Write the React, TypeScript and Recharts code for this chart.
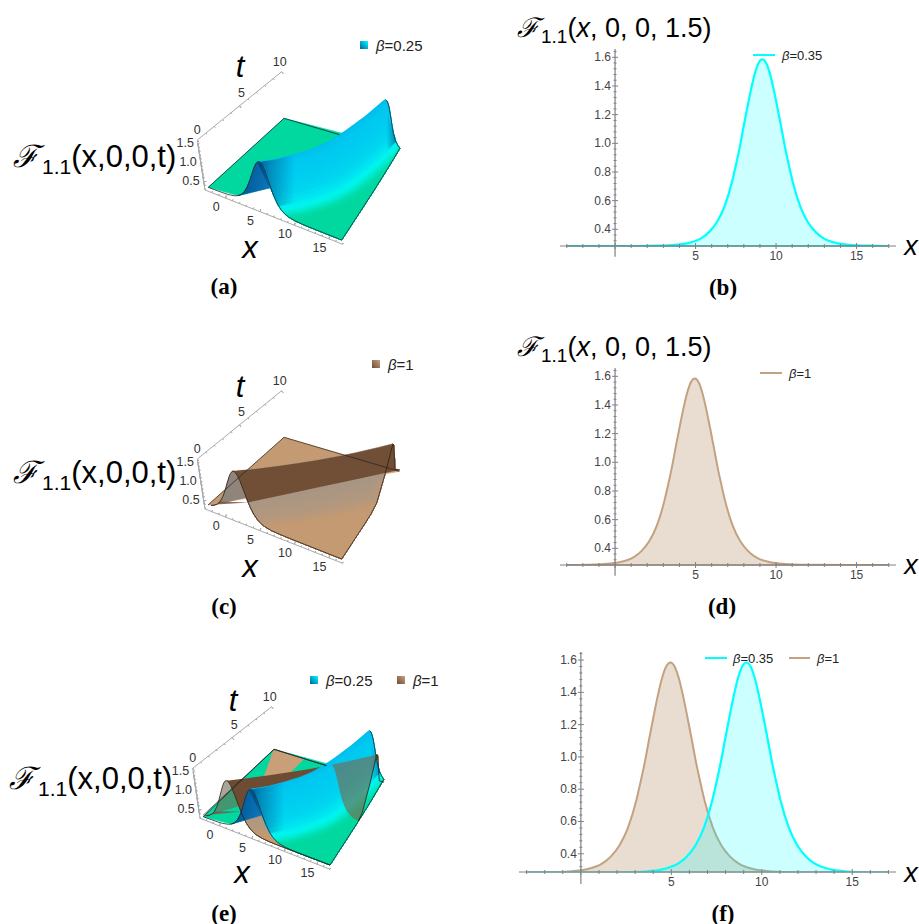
import React from "react";
import {
  Area,
  ComposedChart,
  Line,
  ReferenceLine,
  Scatter,
  XAxis,
  YAxis,
} from "recharts";

// section curves (b), (d), (f)
const cyanX = [-3, 1.5, 2.55, 3.51, 4.45, 5.39, 5.85, 6.33, 6.8, 7.27, 7.5, 7.74, 7.97, 8.21, 8.45, 8.68, 8.91, 9.15, 9.39, 9.62, 9.85, 10.09, 10.33, 10.56, 10.8, 11.03, 11.5, 11.97, 12.45, 12.91, 13.85, 14.79, 15.75, 17];
const brownX = [-3, -1.65, -0.69, 0.25, 1.19, 1.65, 2.13, 2.6, 3.07, 3.3, 3.54, 3.77, 4.01, 4.25, 4.48, 4.71, 4.95, 5.19, 5.42, 5.65, 5.89, 6.13, 6.36, 6.6, 6.83, 7.3, 7.77, 8.25, 8.71, 9.65, 10.59, 11.55, 17];
const cyanY = [0.2835, 0.2835, 0.2855, 0.29, 0.302, 0.34, 0.382, 0.451, 0.56, 0.733, 0.845, 0.97, 1.108, 1.246, 1.378, 1.486, 1.559, 1.585, 1.559, 1.486, 1.378, 1.246, 1.108, 0.97, 0.845, 0.733, 0.56, 0.451, 0.382, 0.34, 0.302, 0.29, 0.2855, 0.2835];
const brownY = [0.2835, 0.2855, 0.29, 0.302, 0.34, 0.382, 0.451, 0.56, 0.733, 0.845, 0.97, 1.108, 1.246, 1.378, 1.486, 1.559, 1.585, 1.559, 1.486, 1.378, 1.246, 1.108, 0.97, 0.845, 0.733, 0.56, 0.451, 0.382, 0.34, 0.302, 0.29, 0.2855, 0.2835];

const xTicks2d = [-3, -2, -1, 0, 1, 2, 3, 4, 5, 6, 7, 8, 9, 10, 11, 12, 13, 14, 15, 16, 17];
const yTicks2d = [0.32, 0.36, 0.4, 0.44, 0.48, 0.52, 0.56, 0.6, 0.64, 0.68, 0.72, 0.76, 0.8, 0.84, 0.88, 0.92, 0.96, 1, 1.04, 1.08, 1.12, 1.16, 1.2, 1.24, 1.28, 1.32, 1.36, 1.4, 1.44, 1.48, 1.52, 1.56, 1.6, 1.64];
const yMajor = [0.4, 0.6, 0.8, 1, 1.2, 1.4, 1.6];

// soliton cross-section, height against distance from the crest
const profileOffsets = [-8, -7, -6, -5, -4, -3.5, -3, -2.5, -2, -1.75, -1.5, -1.25, -1, -0.75, -0.5, -0.25, 0, 0.25, 0.5, 0.75, 1, 1.25, 1.5, 1.75, 2, 2.5, 3, 3.5, 4, 5, 6, 7, 8];
const profileHeights = [0.2835, 0.2855, 0.29, 0.302, 0.34, 0.382, 0.451, 0.56, 0.733, 0.845, 0.97, 1.108, 1.246, 1.378, 1.486, 1.559, 1.585, 1.559, 1.486, 1.378, 1.246, 1.108, 0.97, 0.845, 0.733, 0.56, 0.451, 0.382, 0.34, 0.302, 0.29, 0.2855, 0.2835];

// crest position x against t for the two surfaces
const crestCyan = [5, 6.8, 8.2, 9.5, 10.5, 11.2, 11.8, 12.3, 12.8, 13.2, 13.6];
const crestBrown = [1.45, 3.45, 5.45, 7.45, 9.45, 11.45, 13.45, 15.45, 17.45, 19.45, 21.45];
const tSamples = [0, 1, 2, 3, 4, 5, 6, 7, 7.77, 8, 9, 10];

const xTicks3d = [-3, -2, -1, 0, 1, 2, 3, 4, 5, 6, 7, 8, 9, 10, 11, 12, 13, 14, 15, 16, 17];
const tTicks3d = [0, 1, 2, 3, 4, 5, 6, 7, 8, 9, 10];
const zTicks3d = [0.4, 0.5, 0.6, 0.7, 0.8, 0.9, 1, 1.1, 1.2, 1.3, 1.4, 1.5];
const xLabels3d = [0, 5, 10, 15];
const tLabels3d = [0, 5, 10];
const zLabels3d = [0.5, 1, 1.5];

// colours on the front slope, crest to foot
const stripOffsets = [-0.3, 0, 0.25, 0.5, 0.75, 1, 1.25, 1.5, 1.75, 2, 2.25, 2.5, 2.75, 3, 3.25, 3.5, 3.75, 4, 4.5, 5.5];
const cyanStrips = ["#00b8ea", "#00c0ec", "#00c4ee", "#00c8ef", "#00caf0", "#00ccf0", "#00cff0", "#00d2f0", "#00d6f0", "#00dcf0", "#00e4f0", "#00ecf0", "#00f4ee", "#00f2e2", "#00ecd2", "#00e6c2", "#00e0b4", "#00dca8", "#00d8a0", "#00d8a0"];
const brownStrips = ["#9c8f82", "#9e9083", "#a09183", "#a29283", "#a49383", "#a69483", "#a89583", "#a99583", "#ab9682", "#ad9781", "#af9780", "#b1987f", "#b4987d", "#b7987b", "#ba9979", "#bd9977", "#c09975", "#c29a73", "#c49a72", "#c49a72"];

const FONT = "'Liberation Sans', Arial, sans-serif";
const CYAN = "#00ffff";
const BROWN = "#c2a280";
const EDGE = "#1c2a30";

type Pt = { u: number; v: number };

const lerp = (a: number, b: number, f: number) => a + (b - a) * f;

const heightAt = (xi: number) => {
  if (xi <= profileOffsets[0] || xi >= profileOffsets[profileOffsets.length - 1]) return 0.2835;
  for (let i = 1; i < profileOffsets.length; i++) {
    if (xi <= profileOffsets[i]) {
      const f = (xi - profileOffsets[i - 1]) / (profileOffsets[i] - profileOffsets[i - 1]);
      return lerp(profileHeights[i - 1], profileHeights[i], f);
    }
  }
  return 0.2835;
};

const crestAt = (crest: number[], t: number) => {
  const i = Math.min(Math.floor(t), 9);
  return lerp(crest[i], crest[i + 1], t - i);
};

// perspective box of one 3D panel, page pixels
const panelA = {
  top: 40, height: 230,
  p00: [208.3, 187.3], p10: [341.7, 240], p01: [284, 118.3], p11: [399.3, 152.3],
  xAxis: [[205, 190], [342.7, 244.3]], tAxis: [[197.3, 140], [281.7, 71.7]], zAxis: [[197.3, 140], [205, 190]],
};
const shiftPanel = (p: any, dy: number) => ({
  top: p.top + dy, height: p.height,
  p00: [p.p00[0], p.p00[1] + dy], p10: [p.p10[0], p.p10[1] + dy], p01: [p.p01[0], p.p01[1] + dy], p11: [p.p11[0], p.p11[1] + dy],
  xAxis: p.xAxis.map((q: number[]) => [q[0], q[1] + dy]), tAxis: p.tAxis.map((q: number[]) => [q[0], q[1] + dy]), zAxis: p.zAxis.map((q: number[]) => [q[0], q[1] + dy]),
});
const panelC = shiftPanel(panelA, 319.3);
const panelE = {
  top: 680, height: 210,
  p00: [203.3, 816.7], p10: [330, 865], p01: [274, 749.3], p11: [383.3, 783.3],
  xAxis: [[200, 818.3], [330, 869.3]], tAxis: [[192.7, 768.3], [271.7, 706.7]], zAxis: [[192.7, 768.3], [200, 818.3]],
};

const project = (p: any, x: number, t: number, z: number): Pt => {
  const a = (x + 3) / 20;
  const b = t / 10;
  const lift = 36 * (z - 0.2835);
  const bottom = [lerp(p.p00[0], p.p10[0], a), lerp(p.p00[1], p.p10[1], a)];
  const back = [lerp(p.p01[0], p.p11[0], a), lerp(p.p01[1], p.p11[1], a)];
  const u = lerp(bottom[0], back[0], b);
  // verticals lean outwards as they rise, the view has perspective
  return { u: u + 0.00153 * (u - 297) * lift, v: lerp(bottom[1], back[1], b) - lift };
};

// point at a given distance from the crest, held inside the plotted x range
const onSurface = (p: any, crest: number[], xi: number, t: number) => {
  const c = crestAt(crest, t);
  const x = Math.min(17, Math.max(-3, c + xi));
  return project(p, x, t, heightAt(x - c));
};

const alongAxis = (ends: number[][], f: number): Pt => ({
  u: lerp(ends[0][0], ends[1][0], f),
  v: lerp(ends[0][1], ends[1][1], f),
});

// turn an outline into the low/high pairs an Area wants
const toRange = (pts: Pt[]) => {
  const us = Array.from(new Set(pts.map((q) => Math.round(q.u * 100) / 100))).sort((a, b) => a - b);
  return us.map((u) => {
    let lo = Infinity;
    let hi = -Infinity;
    pts.forEach((q, i) => {
      const r = pts[(i + 1) % pts.length];
      const a = Math.min(q.u, r.u) - 0.006;
      const b = Math.max(q.u, r.u) + 0.006;
      if (u < a || u > b) return;
      const f = Math.abs(r.u - q.u) < 0.01 ? 0 : Math.min(1, Math.max(0, (u - q.u) / (r.u - q.u)));
      const v = lerp(q.v, r.v, f);
      lo = Math.min(lo, v);
      hi = Math.max(hi, v);
      if (Math.abs(r.u - q.u) < 0.01) {
        lo = Math.min(lo, r.v);
        hi = Math.max(hi, r.v);
      }
    });
    return { u, range: [lo, hi] };
  });
};

const patch = (key: string, pts: Pt[], fill: string, opacity = 1, seam = true) => (
  <Area
    key={key}
    data={toRange(pts)}
    dataKey="range"
    type="linear"
    fill={fill}
    fillOpacity={opacity}
    stroke={seam ? fill : "none"}
    strokeWidth={seam ? 0.7 : 0}
    dot={false}
    activeDot={false}
    isAnimationActive={false}
  />
);

const edge = (key: string, pts: Pt[], color = EDGE, width = 0.8) => (
  <Line key={key} data={pts} dataKey="v" type="linear" stroke={color} strokeWidth={width} dot={false} activeDot={false} isAnimationActive={false} />
);

const samplesFrom = (from: number) => [from, ...tSamples.filter((t) => t > from)];

const profileAt = (p: any, crest: number[], t: number, from: number, to: number) => {
  const c = crestAt(crest, t);
  return profileOffsets
    .filter((o) => o >= from && o <= to && c + o >= -3 && c + o <= 17)
    .map((o) => project(p, c + o, t, heightAt(o)));
};

const edgeAtRight = (p: any, crest: number[], from = 0) =>
  samplesFrom(from).map((t) => project(p, 17, t, heightAt(17 - crestAt(crest, t))));

// each colour runs from its own line to the x=17 edge, later ones paint over earlier ones
const frontStrips = (p: any, crest: number[], colors: string[], prefix: string) =>
  stripOffsets.map((xi, i) => {
    const near = tSamples.map((t) => onSurface(p, crest, xi, t));
    const farEnd = profileAt(p, crest, 10, xi, 24).filter((q) => q.u > near[near.length - 1].u);
    const right = edgeAtRight(p, crest).reverse();
    const start = [...profileAt(p, crest, 0, xi, 24), project(p, 17, 0, 0.2835)].reverse();
    return patch(`${prefix}-strip-${i}`, [...near, ...farEnd, ...right, ...start], colors[i]);
  });

// flat part behind the wave; nothing is drawn under the open t=0 arc
const cyanBase = (p: any, id: string) => [
  patch(
    `${id}-base`,
    [
      project(p, -3, 0, 0.2835),
      onSurface(p, crestCyan, -3.5, 0),
      onSurface(p, crestCyan, 1.5, 0),
      project(p, 17, 10, heightAt(17 - 13.6)),
      project(p, -3, 10, 0.2835),
    ],
    "#00d8a0"
  ),
];

const cyanFront = (p: any, id: string) => {
  const c = crestCyan;
  const inside = profileAt(p, c, 0, -3.5, 1.5);
  const slope = tSamples.map((t) => onSurface(p, c, -0.3, t)).concat(tSamples.map((t) => onSurface(p, c, 2.6, t)).reverse());
  return [
    patch(`${id}-inside`, inside, `url(#${id}-under)`),
    ...frontStrips(p, c, cyanStrips, id),
    patch(`${id}-shade`, slope, `url(#${id}-shade)`, 1, false),
  ];
};

const cyanEdges = (p: any, id: string) => {
  const c = crestCyan;
  return [
    edge(`${id}-e1`, profileAt(p, c, 0, -8, 8).concat([project(p, 17, 0, 0.2835)])),
    edge(`${id}-e2`, edgeAtRight(p, c)),
    edge(`${id}-e3`, profileAt(p, c, 10, 0, 8).concat([project(p, 17, 10, heightAt(17 - 13.6))])),
    edge(`${id}-e4`, [project(p, -3, 0, 0.2835), project(p, -3, 10, 0.2835), project(p, 3, 10, 0.2835), project(p, 6.6, 10, 0.2835)]),
  ];
};

const brownLayers = (p: any, id: string, alone: boolean) => {
  const c = crestBrown;
  const crest = tSamples.map((t) => onSurface(p, c, 0, t));
  const tip = project(p, 17, 10, 0.2835);
  const corner = project(p, -3, 0, heightAt(-3 - 1.45));
  const back = project(p, -3, 10, 0.2835);
  const out: any[] = [];
  if (alone) {
    out.push(patch(`${id}-back`, [corner, back, tip], "#c49a72"));
    out.push(patch(`${id}-rear`, tSamples.slice(6).map((t) => onSurface(p, c, 0, t)).concat([project(p, 12.5, 10, 0.2835)]), "#8f857a"));
    out.push(...frontStrips(p, c, brownStrips, id));
    out.push(patch(`${id}-under`, profileAt(p, c, 0, -4, 1.6), "#8f857a"));
  } else {
    out.push(patch(`${id}-back`, [back, project(p, 2.5, 10, 0.2835), project(p, 2, 2.5, 0.2835)], "#c99f78"));
    out.push(...frontStrips(p, c, brownStrips, id).slice(6));
    out.push(patch(`${id}-under`, profileAt(p, c, 0, -4, 1.6), "#6e6a50", 0.6, false));
  }
  // dark band between the crest and the foot of the rear slope
  const band = profileAt(p, c, 0, 0, 1.75).reverse().concat(crest);
  out.push(patch(`${id}-band`, band, "#6e4c34", alone ? 0.97 : 1, false));
  out.push(patch(`${id}-tail`, [corner].concat(profileAt(p, c, 0, -3.6, -2.4)).concat(profileAt(p, c, 0, 1.75, 1.75)), "#7a5a42", 0.9, false));
  return out;
};

const brownEdges = (p: any, id: string, alone: boolean) => {
  const c = crestBrown;
  const line = "#2a2018";
  return [
    edge(`${id}-e1`, profileAt(p, c, 0, -8, 8).concat([project(p, 17, 0, 0.2835)]), line),
    edge(`${id}-e2`, edgeAtRight(p, c, alone ? 0 : 5.3), line),
    edge(`${id}-e4`, [project(p, -3, 0, heightAt(-3 - 1.45)), project(p, -3, 10, 0.2835), project(p, alone ? 17 : 6.6, 10, 0.2835)], line, 0.7),
  ];
};

// brown slope passing in front of the cyan one on the right of panel (e)
const brownOverlay = (p: any, id: string) => {
  const c = crestBrown;
  const from = 5.3;
  const crestPart = samplesFrom(from).map((t) => onSurface(p, c, 0, t));
  const side = edgeAtRight(p, c, from).reverse();
  const arc = profileAt(p, c, from, 0, 8).reverse();
  return [patch(`${id}-over`, crestPart.concat(side).concat(arc), "#7d6346", 0.6, false)];
};

// axis line with its ticks in one polyline
const axisWithTicks = (ends: number[][], values: number[], lo: number, hi: number, major: number[], out: number[]) => {
  const pts: Pt[] = [alongAxis(ends, 0)];
  values.forEach((val) => {
    const q = alongAxis(ends, (val - lo) / (hi - lo));
    const len = major.includes(val) ? 2.6 : 1.4;
    pts.push(q, { u: q.u + out[0] * len, v: q.v + out[1] * len }, q);
  });
  pts.push(alongAxis(ends, 1));
  return pts;
};

const tickText = (props: any) => {
  const d = props.payload;
  return (
    <text x={props.cx} y={props.cy} textAnchor={d.anchor} fontFamily={FONT} fontSize={12.5} fill="#333">
      {d.text}
    </text>
  );
};

const Surface3D = ({ panel, kind }: { panel: any; kind: string }) => {
  const id = `s${kind}`;
  const xLab = xLabels3d.map((val) => {
    const q = alongAxis(panel.xAxis, (val + 3) / 20);
    return { u: q.u - 9.5, v: q.v + 13, text: String(val), anchor: "middle" };
  });
  const tLab = tLabels3d.map((val) => {
    const q = alongAxis(panel.tAxis, val / 10);
    return { u: q.u - (val === 10 ? 2 : val === 5 ? -2 : 0), v: q.v - (val === 5 ? 9 : 6), text: String(val), anchor: "middle" };
  });
  const zLab = zLabels3d.map((val) => {
    const q = alongAxis(panel.zAxis, (1.6 - val) / 1.32);
    return { u: q.u - 4, v: q.v + 3, text: val.toFixed(1), anchor: "end" };
  });
  return (
    <div style={{ position: "absolute", left: 0, top: panel.top, width: 460, height: panel.height }}>
      <ComposedChart width={460} height={panel.height} margin={{ top: 0, right: 0, bottom: 0, left: 0 }}>
        <defs>
          <linearGradient id={`${id}-under`} x1="0" y1="0" x2="1" y2="0.2">
            <stop offset="0" stopColor="#004f8a" />
            <stop offset="1" stopColor="#0a74b8" />
          </linearGradient>
          <linearGradient id={`${id}-shade`} x1="0" y1="0" x2="1" y2="0">
            <stop offset="0" stopColor="#00407e" stopOpacity="0.8" />
            <stop offset="0.09" stopColor="#00407e" stopOpacity="0.45" />
            <stop offset="0.27" stopColor="#00407e" stopOpacity="0" />
            <stop offset="0.93" stopColor="#00407e" stopOpacity="0" />
            <stop offset="1" stopColor="#00407e" stopOpacity="0.55" />
          </linearGradient>
        </defs>
        <XAxis dataKey="u" type="number" domain={[0, 460]} allowDataOverflow hide />
        <YAxis dataKey="v" type="number" domain={[panel.top, panel.top + panel.height]} allowDataOverflow reversed hide />
        {kind === "a" && [...cyanBase(panel, id), ...cyanFront(panel, id)]}
        {kind === "c" && brownLayers(panel, id, true)}
        {kind === "e" && [
          ...cyanBase(panel, id),
          ...brownLayers(panel, `${id}b`, false),
          ...cyanFront(panel, id),
          ...brownOverlay(panel, id),
        ]}
        {edge(`${id}-xa`, axisWithTicks(panel.xAxis, xTicks3d, -3, 17, xLabels3d, [0.25, -1]), "#aaaaaa", 1)}
        {edge(`${id}-ta`, axisWithTicks(panel.tAxis, tTicks3d, 0, 10, tLabels3d, [0.6, 0.8]), "#aaaaaa", 1)}
        {edge(`${id}-za`, axisWithTicks(panel.zAxis, zTicks3d.map((z) => 1.6 - z), 0, 1.32, [0.1, 0.6, 1.1], [1, -0.1]), "#aaaaaa", 1)}
        {kind === "a" && cyanEdges(panel, id)}
        {kind === "c" && brownEdges(panel, id, true)}
        {kind === "e" && [...brownEdges(panel, `${id}b`, false), ...cyanEdges(panel, id)]}
        <Scatter data={[...xLab, ...tLab, ...zLab]} shape={tickText} isAnimationActive={false} />
      </ComposedChart>
    </div>
  );
};

const Section2D = ({ box, yMin, yMax, series, baseColor }: any) => {
  const xMin = -3.42;
  const xMax = box.xMax;
  const axisX = (box.w * (0 - xMin)) / (xMax - xMin);
  const xTick = (props: any) => {
    const val = props.payload.value;
    const big = val % 5 === 0;
    return (
      <g>
        <line x1={props.x} x2={props.x} y1={props.y - (big ? 3 : 2)} y2={props.y + (big ? 3 : 2)} stroke="#808080" />
        {big && val > 0 && (
          <text x={props.x} y={props.y + 14} textAnchor="middle" fontFamily={FONT} fontSize={12} fill="#444">
            {val}
          </text>
        )}
      </g>
    );
  };
  const yTick = (props: any) => {
    const val = props.payload.value;
    const big = yMajor.includes(val);
    const x = props.x + axisX;
    return (
      <g>
        <line x1={x - (big ? 3 : 1.5)} x2={x + (big ? 3 : 1.5)} y1={props.y} y2={props.y} stroke="#808080" />
        {big && (
          <text x={x - 4} y={props.y + 4} textAnchor="end" fontFamily={FONT} fontSize={12} fill="#444">
            {val.toFixed(1)}
          </text>
        )}
      </g>
    );
  };
  return (
    <div style={{ position: "absolute", left: box.x - 1, top: box.y, width: box.w + 1, height: box.h + 30 }}>
      <ComposedChart width={box.w + 1} height={box.h + 30} margin={{ top: 0, right: 0, bottom: 0, left: 0 }} style={{ overflow: "visible" }}>
        <XAxis dataKey="x" type="number" domain={[xMin, xMax]} ticks={xTicks2d} interval={0} height={30} axisLine={{ stroke: "#808080" }} tickLine={false} tickSize={0} tickMargin={0} tick={xTick} allowDataOverflow />
        <YAxis dataKey="y" type="number" domain={[yMin, yMax]} ticks={yTicks2d} interval={0} width={1} axisLine={false} tickLine={false} tickSize={0} tickMargin={0} tick={yTick} allowDataOverflow />
        {series.map((s: any) => (
          <Area
            key={s.name}
            data={s.x.map((x: number, i: number) => ({ x, y: s.y[i] }))}
            dataKey="y"
            name={s.name}
            type="monotone"
            baseValue={yMin}
            stroke={s.color}
            strokeWidth={s.width}
            fill={s.color}
            fillOpacity={s.alpha}
            dot={false}
            activeDot={false}
            isAnimationActive={false}
          />
        ))}
        <ReferenceLine segment={[{ x: 0, y: yMin - 0.075 }, { x: 0, y: yMax }]} stroke="#808080" strokeWidth={1.2} ifOverflow="visible" />
        <ReferenceLine segment={[{ x: -3, y: yMin }, { x: 17, y: yMin }]} stroke={baseColor} strokeWidth={1.5} ifOverflow="visible" />
      </ComposedChart>
    </div>
  );
};

const at = (x: number, y: number, extra: any = {}): React.CSSProperties => ({
  position: "absolute",
  left: x,
  top: y,
  whiteSpace: "nowrap",
  fontFamily: FONT,
  lineHeight: 1,
  color: "#000",
  ...extra,
});

const Caption = ({ x, y, text }: any) => (
  <div style={at(x, y, { fontFamily: "'Liberation Serif', serif", fontWeight: 700, fontSize: 23, transform: "translate(-50%,-50%)" })}>{text}</div>
);

const ScriptF = ({ size }: any) => (
  <span style={{ fontFamily: "'DejaVu Serif', serif", fontStyle: "italic", fontSize: size }}>ℱ</span>
);

const Formula3D = ({ x, y }: any) => (
  <div style={at(x, y, { fontSize: 31 })}>
    <ScriptF size={31} />
    <span style={{ fontSize: 21, position: "relative", top: 7, marginLeft: 3 }}>1.1</span>(x,0,0,t)
  </div>
);

const Formula2D = ({ x, y }: any) => (
  <div style={at(x, y, { fontSize: 27 })}>
    <ScriptF size={27} />
    <span style={{ fontSize: 19, position: "relative", top: 6, marginLeft: 2 }}>1.1</span>(<i>x</i>, 0, 0, 1.5)
  </div>
);

const BetaText = ({ x, y, text, size = 13 }: any) => (
  <div style={at(x, y, { fontSize: size, color: "#222", transform: "translateY(-50%)" })}>
    <i>β</i>={text}
  </div>
);

const LegendLine = ({ x, y, w, color, text, gap }: any) => (
  <>
    <div style={at(x, y - 1, { width: w, height: 2, background: color })} />
    <BetaText x={x + w + gap} y={y} text={text} />
  </>
);

const LegendBox = ({ x, y, from, to, text }: any) => (
  <>
    <div style={at(x, y - 4, { width: 8, height: 8, background: `linear-gradient(45deg, ${to}, ${from})` })} />
    <BetaText x={x + 16} y={y} text={text} size={15} />
  </>
);

const AxisName = ({ x, y, text, size }: any) => (
  <div style={at(x, y, { fontSize: size, fontStyle: "italic", transform: "translate(-50%,-50%)" })}>{text}</div>
);

const cyanSeries = { name: "β=0.35", x: cyanX, y: cyanY, color: CYAN, width: 2.2, alpha: 0.2 };
const brownSeries = { name: "β=1", x: brownX, y: brownY, color: BROWN, width: 2, alpha: 0.36 };

export default function App() {
  return (
    <div style={{ position: "absolute", left: 0, top: 0, width: 919, height: 924, background: "#fff", overflow: "hidden" }}>
      <Surface3D panel={panelA} kind="a" />
      <Surface3D panel={panelC} kind="c" />
      <Surface3D panel={panelE} kind="e" />

      <Section2D box={{ x: 560, y: 49, w: 336, h: 197, xMax: 17.45 }} yMin={0.2835} yMax={1.658} series={[cyanSeries]} baseColor="#26b0b0" />
      <Section2D box={{ x: 560, y: 368, w: 336, h: 197, xMax: 17.45 }} yMin={0.2835} yMax={1.658} series={[brownSeries]} baseColor="#a08d78" />
      <Section2D box={{ x: 519, y: 652, w: 377, h: 220, xMax: 17.42 }} yMin={0.287} yMax={1.65} series={[brownSeries, cyanSeries]} baseColor="#7fc4c0" />

      <Formula3D x={13} y={141} />
      <Formula3D x={13} y={457} />
      <Formula3D x={9} y={763} />
      <Formula2D x={517} y={14} />
      <Formula2D x={517} y={333} />

      <AxisName x={240} y={66} text="t" size={31} />
      <AxisName x={250} y={247} text="x" size={31} />
      <AxisName x={240} y={386} text="t" size={31} />
      <AxisName x={250} y={566} text="x" size={31} />
      <AxisName x={233} y={700} text="t" size={31} />
      <AxisName x={242} y={872} text="x" size={31} />
      <AxisName x={911} y={246} text="x" size={27} />
      <AxisName x={911} y={565} text="x" size={27} />
      <AxisName x={911} y={873} text="x" size={27} />

      <LegendBox x={360} y={45} from="#00ffff" to="#005f99" text="0.25" />
      <LegendBox x={372} y={364} from="#c9a27c" to="#6e4c34" text="1" />
      <LegendBox x={310} y={680} from="#00ffff" to="#005f99" text="0.25" />
      <LegendBox x={397} y={680} from="#c9a27c" to="#6e4c34" text="1" />
      <LegendLine x={753} y={55} w={22} color={CYAN} text="0.35" gap={7} />
      <LegendLine x={760} y={373} w={22} color={BROWN} text="1" gap={7} />
      <LegendLine x={705} y={658} w={22} color={CYAN} text="0.35" gap={6} />
      <LegendLine x={789} y={658} w={21} color={BROWN} text="1" gap={7} />

      <Caption x={224} y={286} text="(a)" />
      <Caption x={723} y={287} text="(b)" />
      <Caption x={224} y={606} text="(c)" />
      <Caption x={722} y={606} text="(d)" />
      <Caption x={224} y={913} text="(e)" />
      <Caption x={723} y={913} text="(f)" />
    </div>
  );
}
